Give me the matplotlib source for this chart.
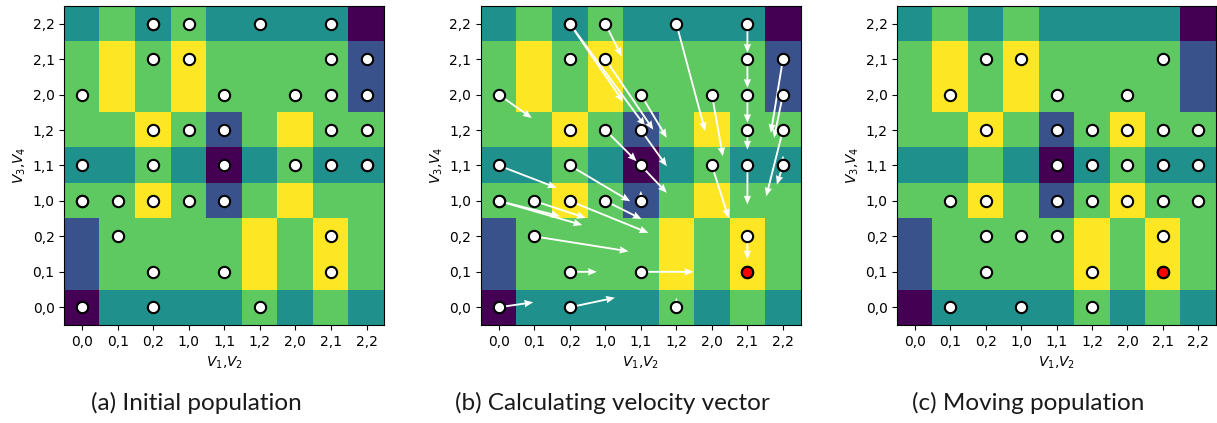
import numpy as np
import matplotlib
matplotlib.use("Agg")
import matplotlib.pyplot as plt

# ---------------- data ----------------
tick_labels = ["0,0", "0,1", "0,2", "1,0", "1,1", "1,2", "2,0", "2,1", "2,2"]

# fitness landscape levels (rows from V3,V4 = 0,0 at bottom to 2,2 at top)
grid_rows = [
    [0, 2, 2, 2, 2, 3, 2, 3, 2],
    [1, 3, 3, 3, 3, 4, 3, 4, 3],
    [1, 3, 3, 3, 3, 4, 3, 4, 3],
    [3, 3, 4, 3, 1, 3, 4, 3, 3],
    [2, 2, 3, 2, 0, 2, 3, 2, 2],
    [3, 3, 4, 3, 1, 3, 4, 3, 3],
    [3, 4, 3, 4, 3, 3, 3, 3, 1],
    [3, 4, 3, 4, 3, 3, 3, 3, 1],
    [2, 3, 2, 3, 2, 2, 2, 2, 0],
]

# initial population (index of V1,V2 column / V3,V4 row)
pop_x = [2, 2, 3, 5, 7, 2, 3, 7, 8, 0, 4, 6, 7, 8, 2, 3, 4, 7, 8, 0,
         2, 4, 6, 7, 8, 8, 0, 0, 1, 2, 3, 4, 1, 7, 2, 4, 7, 0, 2, 5]
pop_y = [8, 8, 8, 8, 8, 7, 7, 7, 7, 6, 6, 6, 6, 6, 5, 5, 5, 5, 5, 4,
         4, 4, 4, 4, 4, 4, 3, 3, 3, 3, 3, 3, 2, 2, 1, 1, 1, 0, 0, 0]

# velocity-vector targets
vel_end_x = [4.12, 3.50, 3.46, 5.81, 7.00, 2.00, 4.35, 7.00, 7.66, 0.93,
             4.73, 6.31, 7.00, 7.75, 2.00, 3.88, 4.73, 7.00, 7.53, 1.63,
             3.70, 4.73, 6.47, 7.00, 8.00, 7.83, 1.72, 2.35, 2.45, 4.21,
             4.02, 4.00, 3.65, 7.00, 2.76, 5.48, 7.00, 0.97, 3.27, 5.00]
vel_end_y = [5.11, 5.80, 7.08, 4.97, 7.18, 7.22, 5.01, 6.19, 4.92, 5.34,
             4.78, 4.26, 5.20, 4.78, 5.22, 4.12, 3.98, 4.45, 3.13, 3.37,
             2.99, 3.23, 2.52, 2.90, 4.28, 3.46, 2.57, 2.32, 2.52, 2.10,
             2.49, 3.28, 1.58, 1.35, 1.00, 1.00, 1.00, 0.14, 0.27, 0.27]

# moved population
new_x = [2, 3, 7, 1, 4, 6, 2, 4, 5, 6, 7, 8, 4, 5, 6, 7, 8,
         1, 2, 4, 5, 6, 7, 8, 2, 3, 4, 7, 2, 5, 7, 1, 3, 5]
new_y = [7, 7, 7, 6, 6, 6, 5, 5, 5, 5, 5, 5, 4, 4, 4, 4, 4,
         3, 3, 3, 3, 3, 3, 3, 2, 2, 2, 2, 1, 1, 1, 0, 0, 0]

best_x, best_y = [7], [1]

captions = ["(a) Initial population", "(b) Calculating velocity vector",
            "(c) Moving population"]

# ---------------- plotting ----------------
W, H = 1217, 423
fig = plt.figure(figsize=(W / 100, H / 100), dpi=100)

axes_px = [(64.3, 384.3), (481.0, 800.7), (897.3, 1216.0)]
top_px, bot_px = 6.0, 325.0
caption_cx = [196, 612, 1028]

grid = np.array(grid_rows)
n = len(tick_labels)

for i, (l, r) in enumerate(axes_px):
    ax = fig.add_axes([l / W, 1 - bot_px / H, (r - l) / W, (bot_px - top_px) / H])
    ax.imshow(grid, cmap="viridis", vmin=0, vmax=4, origin="lower",
              interpolation="nearest", aspect="auto",
              extent=(-0.5, n - 0.5, -0.5, n - 0.5))
    ax.set_xlim(-0.5, n - 0.5)
    ax.set_ylim(-0.5, n - 0.5)
    ax.set_xticks(range(n))
    ax.set_yticks(range(n))
    ax.set_xticklabels(tick_labels, fontsize=10)
    ax.set_yticklabels(tick_labels, fontsize=10)
    ax.set_xlabel("$V_1$,$V_2$", fontsize=10, labelpad=4)
    ax.set_ylabel("$V_3$,$V_4$", fontsize=10, labelpad=3)

    if i == 1:
        sx = np.array(pop_x, float)
        sy = np.array(pop_y, float)
        ex = np.array(vel_end_x)
        ey = np.array(vel_end_y)
        u, v = ex - sx, ey - sy
        m = np.hypot(u, v) > 1e-6
        ax.quiver(sx[m], sy[m], u[m], v[m], angles="xy", scale_units="xy",
                  scale=1, color="white", width=0.0058, headwidth=4.0,
                  headlength=4.8, headaxislength=4.4, zorder=3)

    if i < 2:
        px, py = pop_x, pop_y
    else:
        px, py = new_x, new_y
    ax.scatter(px, py, s=66, facecolor="white", edgecolor="black",
               linewidth=1.5, zorder=4)
    if i > 0:
        ax.scatter(best_x, best_y, s=66, facecolor="red", edgecolor="black",
                   linewidth=1.5, zorder=5)

    fig.text(caption_cx[i] / W, 1 - 403 / H, captions[i], ha="center",
             va="center", fontsize=17.5, family="Lato", color="#1a1a1a")

fig.savefig("out.png", dpi=100)
